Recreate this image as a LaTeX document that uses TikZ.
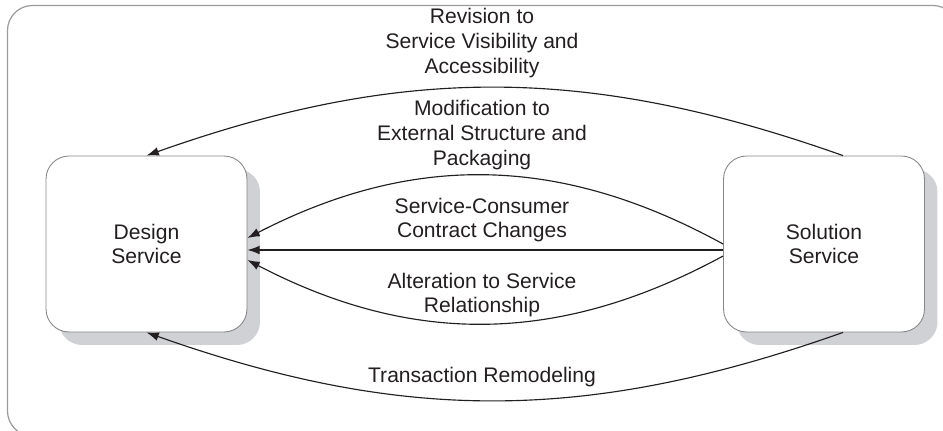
\documentclass[tikz,border=0pt]{standalone}
\usepackage{fontspec}
\setmainfont{Liberation Sans}
\usetikzlibrary{arrows.meta,shadows}
\definecolor{framegray}{RGB}{155,155,155}
\definecolor{boxgray}{RGB}{135,135,135}
\definecolor{shadegray}{RGB}{208,209,212}
\definecolor{inkgray}{RGB}{35,31,32}
\tikzset{
	svc/.style={draw=boxgray, line width=0.5pt, fill=white, rounded corners=0.46cm,
		minimum width=4.02cm, minimum height=3.52cm, align=center, text=inkgray,
		font=\fontsize{12}{14}\selectfont,
		drop shadow={shadow xshift=0.26cm, shadow yshift=-0.26cm, fill=shadegray, opacity=1}},
	lbl/.style={align=center, inner sep=0pt, text=inkgray, font=\fontsize{12}{14}\selectfont},
	flow/.style={inkgray, line width=0.65pt, -{Latex[length=7pt,width=5pt]}}
}

\begin{document}
\begin{tikzpicture}[x=0.02cm,y=-0.02cm]
			\useasboundingbox (0,0) rectangle (943,430);
			\draw[framegray, line width=0.7pt, rounded corners=0.5cm] (7.5,5.5) rectangle (958,436);
			\node[svc] (des) at (146.5,244) {Design\\Service};
			\node[svc] (sol) at (824,244) {Solution\\Service};
			\node[lbl] (revlbl) at (482,43) {Revision to\\Service Visibility and\\Accessibility};
			\node[lbl] (modlbl) at (482,135) {Modification to\\External Structure and\\Packaging};
			\node[lbl] (conlbl) at (482,220) {Service-Consumer\\Contract Changes};
			\node[lbl] (altlbl) at (482,295) {Alteration to Service\\Relationship};
			\node[lbl] (trnlbl) at (482,377) {Transaction Remodeling};
			\draw[flow] ([xshift=0.38cm]sol.north) to[bend right=19.5] (des.north);
			\draw[flow] (sol.west) to[bend right=28] ([yshift=0.12cm]des.east);
			\draw[flow] ([yshift=-0.12cm]sol.west) -- ([yshift=-0.12cm]des.east);
			\draw[flow] ([yshift=-0.24cm]sol.west) to[bend left=28] ([yshift=-0.32cm]des.east);
			\draw[flow] ([xshift=0.38cm]sol.south) to[bend left=19.5] (des.south);
		\end{tikzpicture}
\end{document}
